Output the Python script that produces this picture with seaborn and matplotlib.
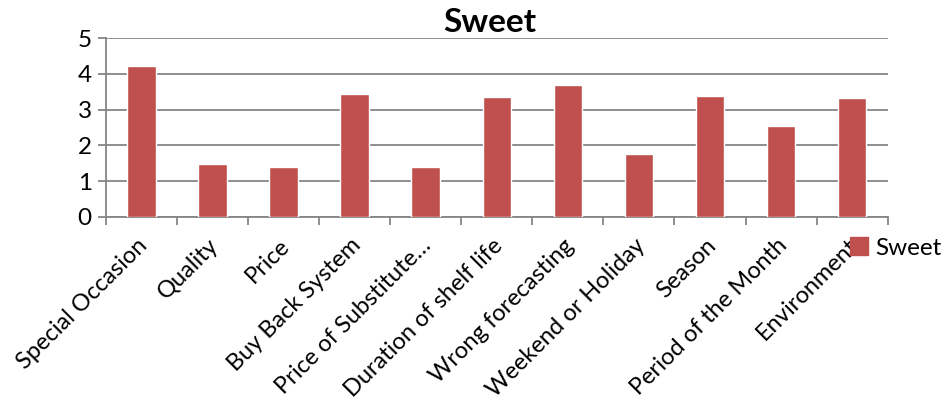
import matplotlib
matplotlib.use("Agg")
import matplotlib.pyplot as plt
import matplotlib.transforms as mtransforms
import seaborn as sns
import pandas as pd
from matplotlib.patches import Patch

categories = [
    "Special Occasion", "Quality", "Price", "Buy Back System",
    "Price of Substitute\u2026", "Duration of shelf life", "Wrong forecasting",
    "Weekend or Holiday", "Season", "Period of the Month", "Environment",
]
sweet = [4.23, 1.47, 1.39, 3.44, 1.39, 3.36, 3.69, 1.75, 3.37, 2.53, 3.33]
y_ticks = [0, 1, 2, 3, 4, 5]
series_name = "Sweet"

bar_color = "#C0504D"
grid_color = "#868686"
text_color = "black"

sns.set_theme(style="white")
plt.rcParams["font.family"] = ["Lato", "DejaVu Sans"]

df = pd.DataFrame({"category": categories, "value": sweet})

fig = plt.figure(figsize=(9.45, 4.07), dpi=100)
ax = fig.add_axes([0.1119, 0.4676, 0.8275, 0.4383])

sns.barplot(data=df, x="category", y="value", color=bar_color,
            width=0.4, saturation=1, ax=ax, zorder=3)

ax.set_ylim(0, 5)
ax.set_xlim(-0.5, len(categories) - 0.5)
ax.set_yticks(y_ticks)
ax.set_yticklabels([str(t) for t in y_ticks], fontsize=17.5, color=text_color)
ax.yaxis.grid(True, color=grid_color, linewidth=1.3, zorder=0)
ax.set_axisbelow(True)

# Category labels under bars; tick marks drawn at category boundaries
ax.set_xticks(range(len(categories)))
ax.set_xticklabels(categories, rotation=45, ha="right", rotation_mode="anchor",
                   fontsize=17, color=text_color)
ax.tick_params(axis="x", which="major", length=0, pad=13)
shift = mtransforms.ScaledTranslation(-5 / 100, 0, fig.dpi_scale_trans)
for lbl in ax.get_xticklabels():
    lbl.set_transform(lbl.get_transform() + shift)
ax.set_xticks([i - 0.5 for i in range(len(categories) + 1)], minor=True)
ax.tick_params(axis="x", which="minor", length=6, width=1.3, color=grid_color,
               direction="out", bottom=True)
ax.tick_params(axis="y", length=6, width=1.3, color=grid_color,
               direction="out", left=True, pad=4)

for side in ["top", "right"]:
    ax.spines[side].set_visible(False)
for side in ["left", "bottom"]:
    ax.spines[side].set_color(grid_color)
    ax.spines[side].set_linewidth(1.3)

ax.set_xlabel("")
ax.set_ylabel("")

fig.text(490 / 945, 1 - 22 / 407, series_name, ha="center", va="center",
         fontsize=24, fontweight="bold", color=text_color)

fig.legend(handles=[Patch(color=bar_color, label=series_name)],
           loc="center left", bbox_to_anchor=(850 / 945, 1 - 248 / 407),
           frameon=False, fontsize=17.5, handlelength=0.75, handleheight=0.75,
           handletextpad=0.3, borderpad=0, borderaxespad=0,
           labelcolor=text_color)

fig.savefig("out.png", dpi=100)
